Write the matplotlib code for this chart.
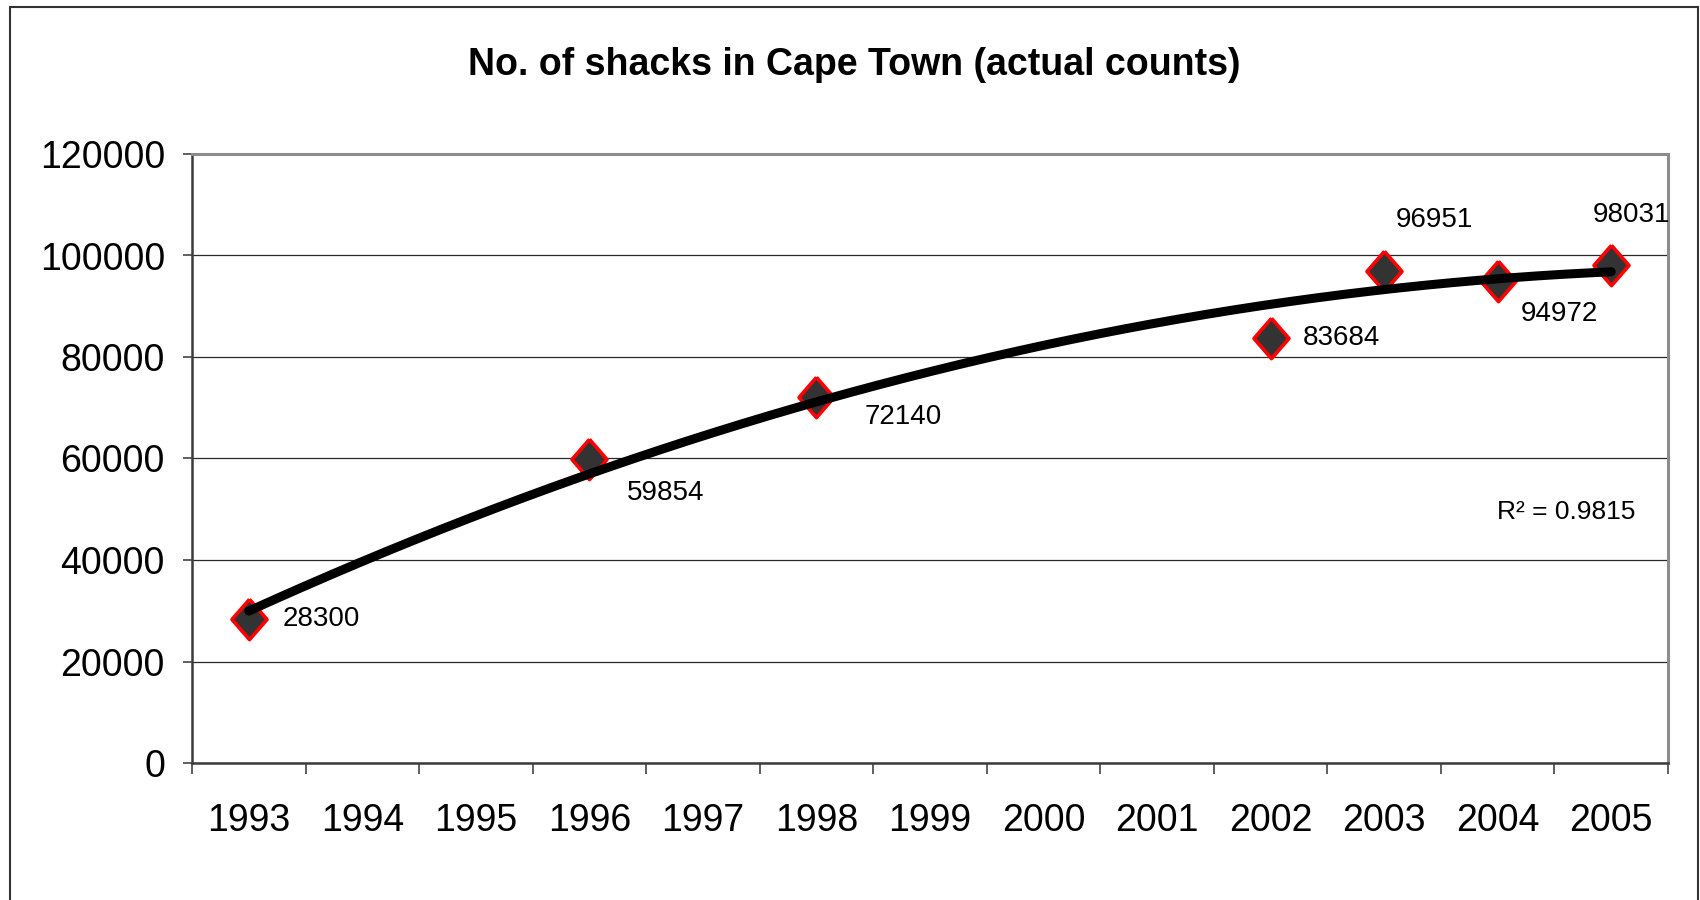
import matplotlib
matplotlib.use('Agg')
import matplotlib.pyplot as plt
import numpy as np
from matplotlib.patches import Rectangle

# categories on the x axis
years = ['1993', '1994', '1995', '1996', '1997', '1998', '1999',
         '2000', '2001', '2002', '2003', '2004', '2005']

# actual counts
count_years = ['1993', '1996', '1998', '2002', '2003', '2004', '2005']
counts = [28300, 59854, 72140, 83684, 96951, 94972, 98031]

yticks = [0, 20000, 40000, 60000, 80000, 100000, 120000]
r2_text = 'R² = 0.9815'

# label offsets (pixels) for each data label, and alignment
label_off = [(34, 0), (76, -34), (87, -20), (32, 0), (50, 51), (62, -33), (20, 50)]
label_ha = ['left', 'center', 'center', 'left', 'center', 'center', 'center']

regular = ['Liberation Sans', 'DejaVu Sans']
plt.rcParams['font.family'] = regular

fig = plt.figure(figsize=(17, 9), dpi=100)
ax = fig.add_axes([192/1700, 137/900, 1476/1700, 609/900])

idx = np.array([years.index(y) for y in count_years])
cnt = np.array(counts)

# polynomial (order 2) trendline, like the Excel one
coef = np.polyfit(idx, cnt, 2)
xs = np.linspace(0, len(years) - 1, 200)
ax.plot(xs, np.polyval(coef, xs), color='black', lw=6.5,
        solid_capstyle='round', zorder=4)

diamond = [(0, 1), (0.87, 0), (0, -1), (-0.87, 0), (0, 1)]
ax.plot(idx, cnt, linestyle='none', marker=diamond, markersize=29,
        markerfacecolor='#333333', markeredgecolor='#ff0000',
        markeredgewidth=2.6, zorder=3)

for i, (x, y) in enumerate(zip(idx, cnt)):
    ax.annotate(str(y), (x, y), xytext=label_off[i], textcoords='offset pixels',
                ha=label_ha[i], va='center', fontsize=20, zorder=5)

ax.set_xlim(-0.5, len(years) - 0.5)
ax.set_ylim(0, 120000)
ax.set_yticks(yticks)
ax.set_yticklabels([str(v) for v in yticks], fontsize=27)
ax.yaxis.grid(True, color='#2a2a2a', lw=0.9)
ax.set_axisbelow(True)

# ticks at category boundaries, labels at category centres
ax.set_xticks(np.arange(len(years) + 1) - 0.5)
ax.set_xticklabels([])
ax.set_xticks(np.arange(len(years)), minor=True)
ax.set_xticklabels(years, minor=True, fontsize=27)
ax.tick_params(axis='x', which='major', direction='out', length=8, width=1.2, color='#444444')
ax.tick_params(axis='x', which='minor', length=0, pad=29)
ax.tick_params(axis='y', direction='out', length=6.5, width=1.2, color='#444444', pad=13)

for side in ['top', 'right']:
    ax.spines[side].set_color('#8c8c8c')
    ax.spines[side].set_linewidth(2.2)
for side in ['left', 'bottom']:
    ax.spines[side].set_color('#3c3c3c')
    ax.spines[side].set_linewidth(1.8)

ax.text(0.884, 0.412, r2_text, transform=ax.transAxes, ha='left', va='center',
        fontsize=19)

fig.text(854/1700, 1 - 65/900, 'No. of shacks in Cape Town (actual counts)',
         ha='center', va='center', fontsize=27, fontweight='bold')

# chart border
fig.patches.append(Rectangle((10/1700, -0.02), 1688/1700, 1.02 - 7/900,
                             transform=fig.transFigure, fill=False,
                             edgecolor='#333333', lw=1.5))

fig.savefig('out.png', dpi=100)
